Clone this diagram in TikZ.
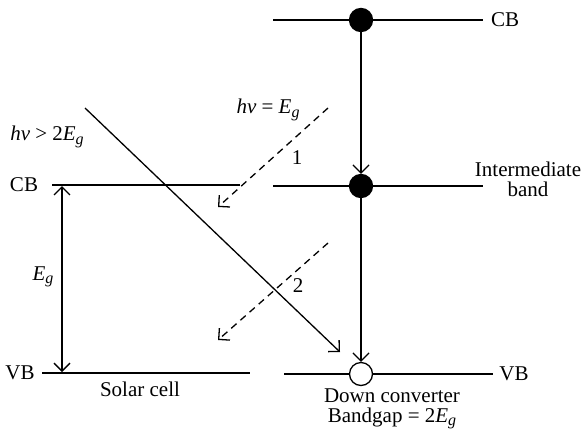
\documentclass[tikz,border=0pt]{standalone}
\usepackage{fontspec}
\setmainfont{Liberation Serif}
\usetikzlibrary{arrows.meta}
\newcommand{\myEg}{\textit{E}\raisebox{-0.35ex}{\footnotesize\itshape g}}
\begin{document}
\begin{tikzpicture}[x=0.5pt,y=-0.5pt,
  band/.style={line width=0.65pt},
  arr/.style={line width=0.65pt,-{Straight Barb[length=4pt,width=8pt,line width=0.65pt]}},
  dblarr/.style={line width=0.65pt,{Straight Barb[length=4pt,width=8pt,line width=0.65pt]}-{Straight Barb[length=4pt,width=8pt,line width=0.65pt]}},
  photon/.style={arr,dash pattern=on 3.5pt off 2.6pt},
  fdot/.style={circle,fill=black,draw=black,line width=0.65pt,minimum size=11.5pt,inner sep=0pt},
  odot/.style={circle,fill=white,draw=black,line width=0.65pt,minimum size=11.5pt,inner sep=0pt},
  lbl/.style={inner sep=1pt,font=\fontsize{10.5pt}{12pt}\selectfont},
]
\useasboundingbox (0,0) rectangle (587,434);
% down converter states
\node[fdot] (dotT) at (361,20) {};
\node[fdot] (dotM) at (361,186) {};
\node[odot] (dotB) at (361,374) {};
% coordinates of band ends
\coordinate (tL) at (273,20);
\coordinate (tR) at (483,20);
\coordinate (mL) at (273,186);
\coordinate (mR) at (483,186);
\coordinate (bL) at (284,374);
\coordinate (bR) at (493,374);
\coordinate (scCBL) at (52,185);
\coordinate (scCBR) at (240,185);
\coordinate (scVBL) at (42,373);
\coordinate (scVBR) at (250,373);
\coordinate (egT) at (62,186);
\coordinate (egB) at (62,372);
\coordinate (ph0) at (85,108);
\coordinate (ph0e) at (340,352);
\coordinate (ph1) at (328,108);
\coordinate (ph1e) at (218,207);
\coordinate (ph2) at (328,243);
\coordinate (ph2e) at (218,340);
% bands
\draw[band] (tL) -- (dotT) -- (tR);
\draw[band] (mL) -- (dotM) -- (mR);
\draw[band] (bL) -- (dotB) -- (bR);
\draw[band] (scCBL) -- (scCBR);
\draw[band] (scVBL) -- (scVBR);
% transitions
\draw[arr] (dotT) -- (dotM.north);
\draw[arr] (dotM) -- (dotB.north);
\draw[dblarr] (egT) -- (egB);
\draw[arr] (ph0) -- (ph0e);
\draw[photon] (ph1) -- (ph1e);
\draw[photon] (ph2) -- (ph2e);
% labels
\node[lbl] (cbR) at (505,20) {CB};
\node[lbl] (cbL) at (24,185) {CB};
\node[lbl] (vbL) at (20,373) {VB};
\node[lbl] (vbR) at (514,374) {VB};
\node[lbl,align=center] (ib) at (528,179) {Intermediate\\[-2pt]band};
\node[lbl] (eg) at (43,277) {\myEg};
\node[lbl] (sc) at (140,389) {Solar cell};
\node[lbl,align=center] (dc) at (392,409) {Down converter\\[-2pt]Bandgap = 2\myEg};
\node[lbl] (h0) at (47,137) {\textit{hν} {>} 2\myEg};
\node[lbl] (h1) at (268,110) {\textit{hν} = \myEg};
\node[lbl] (n1) at (297,158) {1};
\node[lbl] (n2) at (298,286) {2};
\end{tikzpicture}
\end{document}
